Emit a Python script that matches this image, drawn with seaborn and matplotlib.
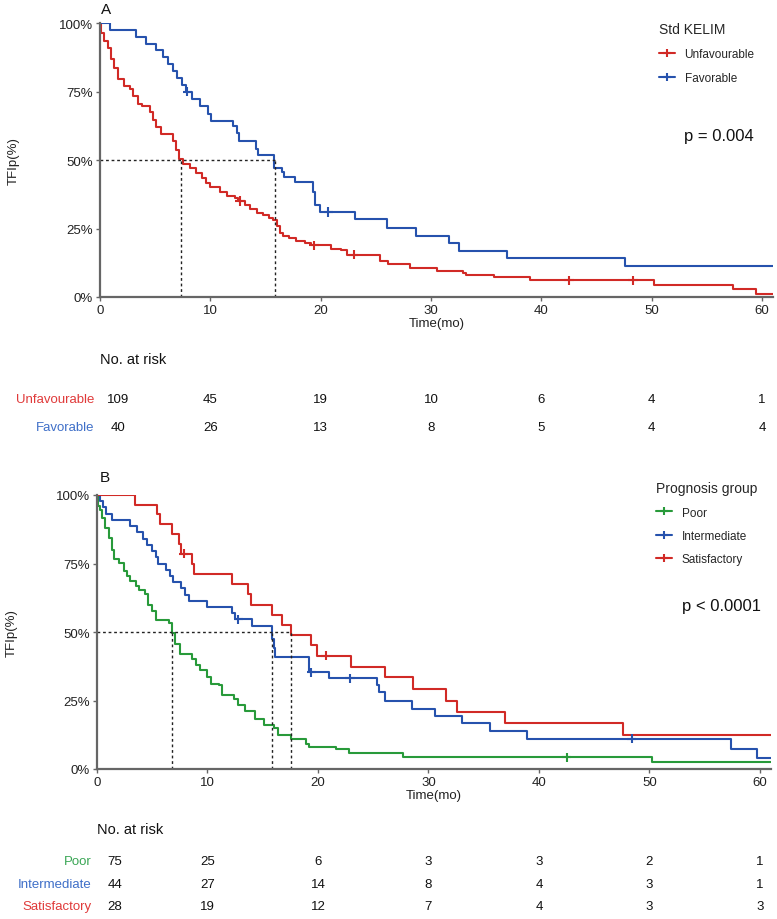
import numpy as np
import pandas as pd
import seaborn as sns
import matplotlib.pyplot as plt
from matplotlib.lines import Line2D
from matplotlib.transforms import blended_transform_factory

sns.set_style("white")
plt.rcParams['font.family'] = ['Liberation Sans Narrow', 'Liberation Sans', 'DejaVu Sans']

RED = '#d12a26'
BLUE = '#2652ad'
GREEN = '#289a3a'
XMAX = 61

# ---- panel A : Std KELIM (time in months, TFIp in % after each step)
unfav_t = [0, 0.1, 0.4, 0.7, 1.0, 1.3, 1.6, 2.2, 2.7, 3.0, 3.4, 3.8, 4.5, 4.8, 5.1, 5.5,
           6.6, 6.9, 7.2, 7.5, 8.2, 8.7, 9.2, 9.6, 10.0, 10.9, 11.5, 12.2, 12.5, 13.1,
           13.6, 14.2, 14.8, 15.3, 15.7, 16.0, 16.3, 16.6, 17.1, 17.8, 18.6, 19.1, 20.9,
           21.8, 22.4, 25.4, 26.1, 28.1, 30.5, 32.9, 33.2, 35.7, 39.0, 50.2, 57.4, 59.5]
unfav_s = [100, 96.3, 93.6, 90.8, 87, 83.5, 79.6, 77, 75.9, 73.4, 70.5, 69.6, 67.5, 64.5, 62, 59.6,
           57, 53.5, 50.5, 48.6, 47.2, 45.3, 43.5, 41.6, 40, 38.4, 37, 36, 35, 33.5,
           32, 30.8, 29.8, 29, 28, 26, 23.5, 22.4, 21.5, 20.6, 19.6, 18.8, 17.5,
           17, 15.5, 13.2, 12.1, 10.6, 9.6, 8.8, 8.0, 7.2, 6.1, 4.5, 2.9, 1.1]
unfav_cens = [12.7, 19.4, 23.0, 42.5, 48.3]

fav_t = [0, 0.9, 3.3, 4.2, 5.1, 5.7, 6.2, 6.6, 7.0, 7.4, 7.8, 8.3, 9.1, 9.8, 10.1, 12.1,
         12.4, 12.6, 14.1, 14.3, 15.8, 16.5, 16.7, 17.7, 19.3, 19.5, 19.9, 23.1, 26.0,
         28.6, 31.6, 32.5, 36.9, 47.6]
fav_s = [100, 97.5, 95, 92.5, 90, 87.5, 85, 82.5, 80, 77.5, 75, 72.3, 69.6, 66.9, 64.3, 62.5,
         60, 57, 54, 51.7, 47, 45.5, 43.8, 41.9, 38.2, 33.5, 31, 28.3, 25.1,
         22.4, 19.8, 16.9, 14.1, 11.3]
fav_cens = [7.9, 20.7]

medians_a = [7.3, 15.9]
risk_unfav = [109, 45, 19, 10, 6, 4, 1]
risk_fav = [40, 26, 13, 8, 5, 4, 4]

# ---- panel B : prognosis group
poor_t = [0, 0.05, 0.3, 0.45, 0.75, 1.05, 1.35, 1.5, 2.0, 2.4, 2.7, 3.0, 3.5, 3.8, 4.3, 4.6,
          5.0, 5.3, 6.5, 6.8, 7.1, 7.5, 8.6, 9.0, 9.3, 10.0, 10.3, 11.0, 11.3, 12.4, 12.8,
          13.4, 14.3, 15.1, 16.0, 16.4, 17.6, 18.9, 19.2, 21.6, 22.8, 27.7, 50.2]
poor_s = [100, 96, 94.7, 91.7, 88, 84.4, 80, 76.5, 75.2, 72.3, 70.4, 68.5, 66.8, 65.5, 64, 60,
          57.5, 54.3, 53.3, 49.5, 45.5, 42, 40.2, 38, 36.3, 33.5, 31, 30.5, 27, 25.6, 23.3,
          21.2, 18.2, 16, 14.8, 12.4, 11, 9.2, 8, 7.3, 5.8, 4.3, 2.5]
poor_cens = [42.5]

inter_t = [0, 0.3, 0.55, 0.8, 1.4, 3.0, 3.6, 4.2, 4.5, 5.0, 5.3, 5.5, 6.2, 6.6, 6.9, 7.6,
           8.0, 8.3, 9.95, 12.2, 12.5, 14.0, 15.8, 16.0, 16.1, 19.2, 21.0, 25.3, 25.5,
           26.1, 28.5, 30.6, 33.0, 35.6, 38.9, 57.4, 59.7]
inter_s = [100, 97.7, 95.5, 93.2, 90.9, 88.6, 86.4, 84.1, 81.8, 79.5, 77.3, 75, 72.7, 70.5, 68.2, 65.9,
           63.6, 61.4, 59.1, 56.8, 54.6, 52.2, 47.4, 44, 40.8, 35.3, 33.1, 30.5, 28,
           25, 22, 19.5, 16.7, 14, 11.1, 7.3, 3.9]
inter_cens = [12.8, 19.4, 22.9, 48.4]

satis_t = [0, 3.4, 5.4, 5.7, 6.8, 7.45, 7.6, 8.6, 8.8, 12.2, 13.7, 13.9, 15.8, 16.7, 17.6,
           19.4, 19.9, 23.0, 26.1, 28.6, 31.6, 32.6, 36.9, 47.6]
satis_s = [100, 96.4, 92.9, 89.3, 85.7, 82.1, 78.6, 74.9, 71.1, 67.4, 63.7, 60, 56.3, 52.6, 48.9,
           45.2, 41.4, 37.1, 33.5, 29.2, 25, 20.8, 16.8, 12.5]
satis_cens = [7.85, 20.7]

medians_b = [6.8, 15.8, 17.6]
risk_poor = [75, 25, 6, 3, 3, 2, 1]
risk_inter = [44, 27, 14, 8, 4, 3, 1]
risk_satis = [28, 19, 12, 7, 4, 3, 3]

xticks = [0, 10, 20, 30, 40, 50, 60]
risk_x = [1.6, 10, 20, 30, 40, 50, 60]
yticks = [0, 25, 50, 75, 100]
ytick_labels = ['0%', '25%', '50%', '75%', '100%']


def km_frame(curves):
    rows = []
    for name, t, s in curves:
        for ti, si in zip(list(t) + [XMAX], list(s) + [s[-1]]):
            rows.append((name, ti, si))
    return pd.DataFrame(rows, columns=['group', 'time', 'surv'])


def cens_frame(curves):
    rows = []
    for name, t, s, c in curves:
        for ci in c:
            i = np.searchsorted(t, ci, side='right') - 1
            rows.append((name, ci, s[i]))
    return pd.DataFrame(rows, columns=['group', 'time', 'surv'])


fig = plt.figure(figsize=(7.77, 9.2), dpi=100)
axA = fig.add_axes([100 / 777, 1 - 298 / 920, 673 / 777, 274 / 920])
axB = fig.add_axes([97 / 777, 1 - 770 / 920, 674 / 777, 274 / 920])


def panel(ax, curves, cens, palette, medians, ylab_x):
    df = km_frame(curves)
    sns.lineplot(data=df, x='time', y='surv', hue='group', palette=palette,
                 drawstyle='steps-post', estimator=None, sort=False,
                 linewidth=1.5, legend=False, ax=ax)
    cdf = cens_frame(cens)
    sns.scatterplot(data=cdf, x='time', y='surv', hue='group', palette=palette,
                    marker='+', s=45, linewidth=1.5, legend=False, ax=ax, zorder=5)
    ax.plot([0, max(medians)], [50, 50], ls=(0, (2, 2)), color='#222', lw=1)
    for m in medians:
        ax.plot([m, m], [0, 50], ls=(0, (2, 2)), color='#222', lw=1)
    ax.set_xlim(0, XMAX)
    ax.set_ylim(0, 100)
    ax.set_xticks(xticks)
    ax.set_yticks(yticks)
    ax.set_yticklabels(ytick_labels)
    ax.set_xlabel('Time(mo)', fontsize=9.5, color='#222', labelpad=1)
    ax.set_ylabel('TFIp(%)', fontsize=9.5, color='#222')
    ax.yaxis.set_label_coords(ylab_x, 0.5)
    sns.despine(ax=ax)
    for sp in ['left', 'bottom']:
        ax.spines[sp].set_color('#666')
        ax.spines[sp].set_linewidth(1.6)
    ax.tick_params(axis='both', length=3, width=1, color='#666', labelsize=9.5,
                   labelcolor='#222', pad=2, bottom=True, left=True)


def add_legend(ax, title, labels, colors, anchor, spacing):
    handles = [Line2D([], [], color=c, lw=1.5, marker='+', ms=6, mew=1.5) for c in colors]
    ax.legend(handles, labels, title=title, loc='upper left', bbox_to_anchor=anchor,
              frameon=False, fontsize=8.5, title_fontsize=10, alignment='left',
              handlelength=1.4, handletextpad=0.8, labelspacing=spacing,
              borderpad=0, borderaxespad=0)


def risk_table(ax, rows, y_head, ys):
    tr = blended_transform_factory(ax.transData, fig.transFigure)
    fig.text(0, 1 - y_head / 920, 'No. at risk', transform=tr, fontsize=10.5,
             color='#111', va='center', ha='left')
    for (label, col, vals), y in zip(rows, ys):
        yf = 1 - y / 920
        ax.text(-0.5, yf, label, transform=tr, color=col, fontsize=9.5,
                ha='right', va='center')
        for x, v in zip(risk_x, vals):
            ax.text(x, yf, str(v), transform=tr, color='#111', fontsize=9.5,
                    ha='center', va='center')


# panel A
pal_a = {'Unfavourable': RED, 'Favorable': BLUE}
panel(axA,
      [('Unfavourable', unfav_t, unfav_s), ('Favorable', fav_t, fav_s)],
      [('Unfavourable', unfav_t, unfav_s, unfav_cens), ('Favorable', fav_t, fav_s, fav_cens)],
      pal_a, medians_a, -0.119)
add_legend(axA, 'Std KELIM', ['Unfavourable', 'Favorable'], [RED, BLUE],
           (0.83, 1.005), 1.05)
axA.text(52.9, 58.8, 'p = 0.004', fontsize=12, color='#111', va='center', ha='left')
fig.text(101 / 777, 1 - 10 / 920, 'A', fontsize=11, color='#111', va='center')
risk_table(axA, [('Unfavourable', '#e03a3a', risk_unfav), ('Favorable', '#3f6fc8', risk_fav)],
           360, [400, 428])

# panel B
pal_b = {'Poor': GREEN, 'Intermediate': BLUE, 'Satisfactory': RED}
panel(axB,
      [('Poor', poor_t, poor_s), ('Intermediate', inter_t, inter_s), ('Satisfactory', satis_t, satis_s)],
      [('Poor', poor_t, poor_s, poor_cens), ('Intermediate', inter_t, inter_s, inter_cens),
       ('Satisfactory', satis_t, satis_s, satis_cens)],
      pal_b, medians_b, -0.117)
add_legend(axB, 'Prognosis group', ['Poor', 'Intermediate', 'Satisfactory'], [GREEN, BLUE, RED],
           (0.829, 1.05), 0.95)
axB.text(52.9, 59.7, 'p < 0.0001', fontsize=12, color='#111', va='center', ha='left')
fig.text(100 / 777, 1 - 478 / 920, 'B', fontsize=11, color='#111', va='center')
risk_table(axB, [('Poor', '#3aa655', risk_poor), ('Intermediate', '#3f6fc8', risk_inter),
                 ('Satisfactory', '#e03a3a', risk_satis)],
           830, [862, 885, 907])

fig.savefig('out.png', dpi=100)
